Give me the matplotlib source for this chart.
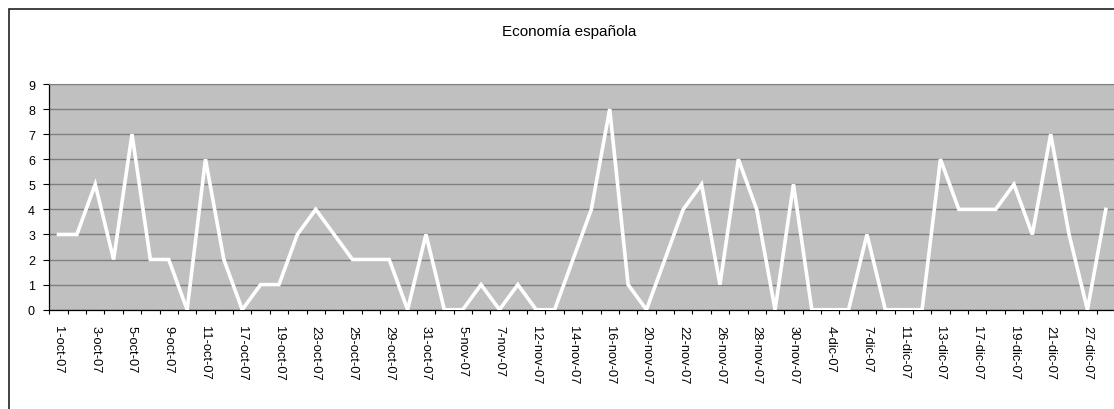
import matplotlib
matplotlib.use('Agg')
import matplotlib.pyplot as plt
import numpy as np
from matplotlib.patches import Rectangle

plt.rcParams['font.family'] = ['Liberation Sans', 'DejaVu Sans']

# Fechas (solo se muestran una de cada dos en el eje)
fechas = ['1-oct-07', '2-oct-07', '3-oct-07', '4-oct-07', '5-oct-07', '8-oct-07',
          '9-oct-07', '10-oct-07', '11-oct-07', '16-oct-07', '17-oct-07', '18-oct-07',
          '19-oct-07', '22-oct-07', '23-oct-07', '24-oct-07', '25-oct-07', '26-oct-07',
          '29-oct-07', '30-oct-07', '31-oct-07', '2-nov-07', '5-nov-07', '6-nov-07',
          '7-nov-07', '8-nov-07', '12-nov-07', '13-nov-07', '14-nov-07', '15-nov-07',
          '16-nov-07', '19-nov-07', '20-nov-07', '21-nov-07', '22-nov-07', '23-nov-07',
          '26-nov-07', '27-nov-07', '28-nov-07', '29-nov-07', '30-nov-07', '3-dic-07',
          '4-dic-07', '5-dic-07', '7-dic-07', '10-dic-07', '11-dic-07', '12-dic-07',
          '13-dic-07', '14-dic-07', '17-dic-07', '18-dic-07', '19-dic-07', '20-dic-07',
          '21-dic-07', '26-dic-07', '27-dic-07', '28-dic-07']

valores = [3, 3, 5, 2, 7, 2, 2, 0, 6, 2, 0, 1, 1, 3, 4, 3, 2, 2,
           2, 0, 3, 0, 0, 1, 0, 1, 0, 0, 2, 4, 8, 1, 0, 2, 4, 5, 1, 6,
           4, 0, 5, 0, 0, 0, 3, 0, 0, 0, 6, 4, 4, 4, 5, 3, 7, 3, 0, 4]

W, H = 1114, 410
fig = plt.figure(figsize=(W / 100, H / 100), dpi=100)

# marco del gráfico (recortado a la derecha y abajo)
fig.patches.append(Rectangle((9 / W, -0.1), 1.2, 1 - 10 / H + 0.1,
                             transform=fig.transFigure, fill=False,
                             edgecolor='#222222', linewidth=1.2))

left, right = 49.3, 1115.0
top, bottom = 85.0, 310.7
ax = fig.add_axes([left / W, 1 - bottom / H, (right - left) / W, (bottom - top) / H])
ax.set_facecolor('#C0C0C0')

n = len(valores)
x = np.arange(n)
ax.plot(x, valores, color='white', linewidth=2.6, solid_joinstyle='miter', zorder=3)

ax.set_xlim(-0.5, n - 0.5)
ax.set_ylim(0, 9)

ax.set_yticks(range(0, 10))
ax.yaxis.grid(True, color='#808080', linewidth=1.0)
ax.set_axisbelow(True)

ax.set_xticks(x[::2])
ax.set_xticklabels(fechas[::2], rotation=-90, fontsize=9.3)
ax.set_xticks(np.arange(n + 1) - 0.5, minor=True)
ax.tick_params(axis='x', which='major', length=0, pad=11)
ax.tick_params(axis='x', which='minor', length=3, width=0.8, direction='out', color='black')
ax.tick_params(axis='y', length=4.3, width=0.8, direction='out', pad=6, labelsize=9)

ax.spines['right'].set_visible(False)
ax.spines['top'].set_color('#808080')
ax.spines['left'].set_color('black')
ax.spines['bottom'].set_color('black')
ax.spines['left'].set_linewidth(0.9)
ax.spines['bottom'].set_linewidth(0.9)

fig.text(569 / W, 1 - 32 / H, 'Economía española', ha='center', va='center', fontsize=11)

fig.savefig('out.png', dpi=100)
